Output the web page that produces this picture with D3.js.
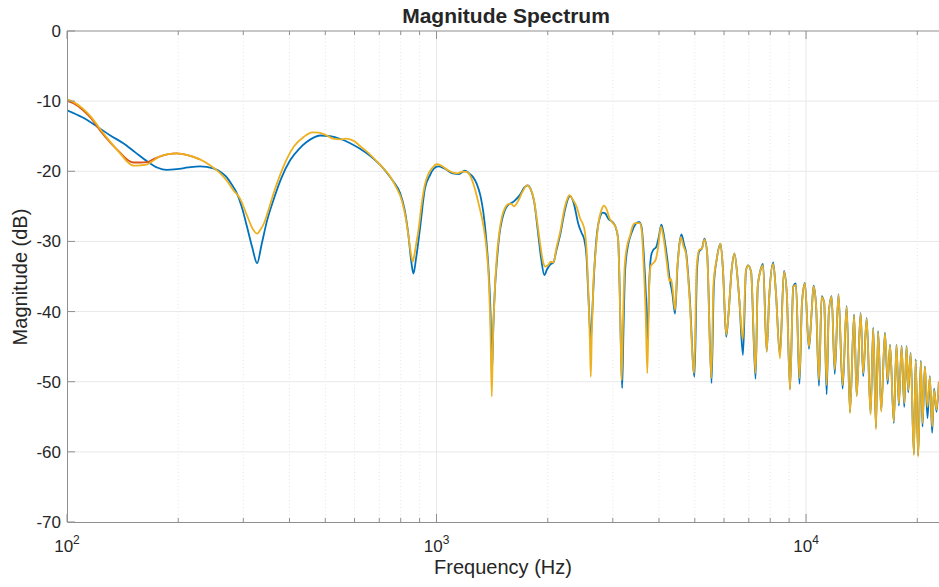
<!DOCTYPE html>
<html>
<head>
<meta charset="utf-8">
<script src="https://cdn.jsdelivr.net/npm/d3@7"></script>
<style>
  html, body { margin: 0; padding: 0; background: #fff; }
  svg { display: block; }
  text { font-family: "Liberation Sans", Arial, Helvetica, sans-serif; fill: #262626; }
</style>
</head>
<body>
<div id="chart"></div>
<script>
// ---------------- DATA ----------------
const chartTitle = "Magnitude Spectrum";
const xLabel = "Frequency (Hz)";
const yLabel = "Magnitude (dB)";
const yTicks = [0, -10, -20, -30, -40, -50, -60, -70];
const yTickLabels = ["0", "-10", "-20", "-30", "-40", "-50", "-60", "-70"];
const xMajorTicks = [100, 1000, 10000];
const xMajorExp = ["2", "3", "4"];
const xDomain = [100, 22900];
const yDomain = [-70, 0];

// Series 1 (blue): [frequency Hz, magnitude dB]
const blueSeries = [
  [100,-11.3],[110,-12.3],[120.5,-13.6],[131,-14.9],[142,-16.0],[153,-17.3],[165,-18.6],[176,-19.5],
  [186,-19.8],[198,-19.7],[213,-19.45],[229,-19.3],[249,-19.6],[262,-20.2],[271,-20.9],[280,-22.0],
  [288,-23.1],[298,-25.3],[307,-27.9],[317,-30.8],[327,-33.1],[336,-30.5],[348,-27.0],[362,-24.1],
  [380,-21.0],[402,-18.4],[425,-16.8],[446,-15.8],[465,-15.2],[484,-14.9],[515,-15.0],[550,-15.4],
  [584,-16.0],[621,-16.8],[661,-17.8],[704,-19.1],[731,-20.1],[765,-21.5],[797,-23.1],[820,-25.5],
  [838,-28.8],[855,-33.0],[866,-34.6],[880,-32.5],[901,-28.4],[930,-22.5],[959,-20.6],[985,-19.6],
  [1011,-19.3],[1050,-19.6],[1107,-20.3],[1150,-20.4],[1193,-19.9],[1225,-20.3],[1254,-20.8],[1285,-21.8],
  [1315,-23.5],[1340,-26.0],[1365,-30.0],[1385,-34.6],[1400,-40.0],[1413,-48.6],[1425,-42.0],[1440,-36.5],
  [1456,-33.0],[1480,-29.0],[1503,-27.0],[1550,-25.0],[1620,-24.3],[1680,-23.4],[1730,-22.3],[1765,-22.0],
  [1800,-22.6],[1840,-24.5],[1880,-28.5],[1920,-32.5],[1958,-34.8],[1990,-34.0],[2030,-33.3],[2073,-33.0],
  [2110,-31.3],[2162,-29.0],[2220,-25.8],[2270,-23.9],[2300,-23.5],[2350,-24.5],[2420,-27.5],[2470,-28.8],
  [2510,-29.7],[2545,-32.0],[2580,-38.5],[2615,-44.1],[2640,-40.0],[2670,-34.5],[2710,-29.5],[2760,-26.8],
  [2820,-25.9],[2860,-26.0],[2920,-26.8],[2990,-27.2],[3050,-27.9],[3100,-29.6],[3130,-36.5],[3155,-45.0],
  [3180,-50.9],[3205,-43.0],[3240,-34.0],[3300,-30.5],[3370,-28.8],[3450,-27.6],[3535,-27.2],[3590,-28.0],
  [3640,-32.0],[3690,-38.0],[3725,-44.0],[3760,-36.5],[3810,-32.0],[3860,-31.2],[3930,-30.8],[3990,-29.5],
  [4060,-27.6],[4120,-29.0],[4200,-32.0],[4280,-35.5],[4350,-37.5],[4420,-40.3],[4490,-33.5],[4540,-30.5],
  [4600,-29.0],[4680,-30.5],[4740,-31.7],[4840,-37.6],[4990,-49.3],[5070,-34.0],[5140,-31.4],[5230,-31.0],
  [5310,-29.6],[5400,-31.7],[5550,-50.2],[5630,-36.3],[5730,-32.6],[5870,-30.3],[5960,-34.1],[6080,-43.6],
  [6170,-40.3],[6290,-34.1],[6400,-31.7],[6520,-35.0],[6600,-38.4],[6750,-46.2],[6880,-34.1],[6970,-33.4],
  [7100,-34.3],[7300,-49.6],[7400,-36.5],[7500,-34.5],[7650,-33.2],[7826,-45.7],[7950,-37.9],[8150,-33.0],
  [8280,-36.9],[8500,-46.2],[8715,-34.2],[8870,-37.4],[9050,-51.0],[9235,-36.4],[9390,-36.0],[9600,-50.3],
  [9750,-38.8],[9930,-35.9],[10180,-45.3],[10350,-40.3],[10480,-36.3],[10650,-39.3],[10840,-50.6],[11020,-37.8],
  [11200,-38.8],[11370,-51.8],[11520,-40.3],[11730,-37.8],[11960,-48.9],[12240,-37.5],[12560,-51.0],[12880,-39.2],
  [13150,-54.3],[13490,-40.4],[13710,-52.0],[14050,-40.2],[14280,-49.2],[14590,-40.9],[14950,-54.5],[15200,-42.3],
  [15460,-56.5],[15670,-42.8],[15980,-54.1],[16350,-43.0],[16630,-50.3],[16880,-44.7],[17280,-55.9],[17570,-44.7],
  [17830,-53.4],[18140,-44.9],[18440,-53.6],[18710,-44.9],[18900,-51.5],[19190,-45.9],[19580,-60.3],[19800,-46.8],
  [20110,-60.5],[20450,-47.0],[20660,-56.4],[20970,-47.8],[21320,-55.2],[21630,-49.2],[21940,-57.3],[22210,-51.0],
  [22550,-54.3],[22880,-50.0]
];

// Series 2 (orange): only distinguishable at the low end, merges with series 3 afterwards
const orangeSeries = [
  [100,-9.95],[104,-10.3],[110,-11.2],[116,-12.4],[123,-14.2],[131,-15.9],[139,-17.3],[146,-18.4],
  [151,-18.75],[158,-18.75],[165,-18.7],[171,-18.3],[178,-17.9],[188,-17.55],[198,-17.45],[212,-17.7],
  [229,-18.3]
];

// Series 3 (yellow)
const yellowSeries = [
  [100,-9.75],[104,-10.1],[110,-11.0],[116,-12.2],[123,-14.0],[131,-15.8],[139,-17.4],[146,-18.7],
  [151,-19.2],[158,-19.15],[165,-19.0],[171,-18.5],[178,-17.9],[188,-17.55],[198,-17.45],[212,-17.7],
  [229,-18.3],[245,-19.2],[260,-20.3],[272,-21.5],[282,-22.7],[294,-23.9],[307,-26.3],[318,-28.2],
  [327,-28.9],[334,-28.3],[342,-27.3],[352,-25.3],[362,-23.2],[378,-20.4],[393,-18.3],[412,-16.4],
  [437,-15.1],[462,-14.45],[480,-14.5],[505,-14.9],[525,-15.35],[548,-15.45],[568,-15.35],[584,-15.45],
  [602,-15.8],[621,-16.4],[648,-17.2],[675,-18.1],[704,-19.1],[746,-20.6],[780,-22.4],[806,-24.2],
  [825,-26.6],[840,-29.3],[852,-31.6],[862,-32.9],[872,-31.8],[882,-30.2],[893,-28.5],[912,-24.6],
  [930,-21.9],[950,-20.4],[975,-19.5],[1000,-19.0],[1030,-19.2],[1070,-19.8],[1107,-20.2],[1140,-20.3],
  [1175,-20.05],[1206,-20.1],[1240,-20.9],[1270,-22.5],[1305,-25.0],[1340,-27.8],[1365,-31.0],[1385,-35.5],
  [1400,-43.0],[1411,-52.1],[1420,-45.0],[1435,-38.0],[1456,-32.2],[1480,-28.6],[1503,-26.5],[1530,-25.3],
  [1560,-24.7],[1590,-24.6],[1620,-25.0],[1660,-24.3],[1710,-22.9],[1757,-22.0],[1795,-22.5],[1831,-23.8],
  [1870,-27.0],[1906,-30.2],[1940,-32.8],[1970,-33.6],[2000,-33.4],[2040,-32.9],[2073,-33.0],[2110,-31.0],
  [2162,-28.6],[2220,-25.3],[2260,-23.9],[2290,-23.4],[2330,-23.9],[2396,-25.1],[2450,-26.8],[2484,-27.4],
  [2520,-28.6],[2545,-30.8],[2575,-37.0],[2600,-44.0],[2615,-49.3],[2632,-43.0],[2660,-35.5],[2690,-32.0],
  [2740,-27.6],[2800,-25.4],[2840,-24.9],[2880,-25.3],[2940,-26.7],[2990,-27.3],[3050,-27.9],[3095,-29.3],
  [3125,-35.0],[3150,-44.0],[3170,-49.8],[3195,-42.0],[3230,-33.6],[3290,-30.3],[3335,-29.3],[3390,-27.9],
  [3446,-27.4],[3500,-27.4],[3550,-27.4],[3590,-28.4],[3630,-32.6],[3680,-40.0],[3720,-48.8],[3760,-37.0],
  [3800,-33.5],[3860,-33.1],[3920,-32.6],[3980,-30.8],[4050,-27.9],[4110,-29.3],[4200,-33.0],[4270,-35.7],
  [4310,-35.3],[4370,-37.5],[4420,-39.8],[4480,-34.0],[4520,-31.7],[4580,-29.4],[4660,-30.7],[4730,-31.7],
  [4830,-37.4],[4980,-48.8],[5060,-33.6],[5140,-31.2],[5230,-31.0],[5310,-29.7],[5400,-31.7],[5540,-49.5],
  [5620,-36.0],[5730,-32.6],[5870,-30.3],[5960,-34.1],[6080,-43.3],[6170,-40.3],[6290,-34.1],[6400,-31.7],
  [6520,-35.0],[6600,-38.4],[6740,-44.0],[6880,-34.1],[6970,-33.4],[7100,-34.3],[7300,-48.8],[7400,-36.5],
  [7500,-34.5],[7650,-33.4],[7826,-45.7],[7950,-37.9],[8150,-33.2],[8280,-36.9],[8500,-46.7],[8715,-34.3],
  [8870,-37.4],[9050,-51.2],[9235,-36.5],[9390,-36.2],[9600,-49.5],[9750,-38.8],[9930,-36.0],[10180,-45.0],
  [10350,-40.3],[10480,-36.4],[10650,-39.3],[10840,-49.8],[11020,-37.9],[11200,-38.8],[11370,-50.5],[11520,-40.3],
  [11730,-37.9],[11960,-48.3],[12240,-37.6],[12560,-50.5],[12880,-39.3],[13150,-54.5],[13490,-40.5],[13710,-52.1],
  [14050,-40.3],[14280,-48.8],[14590,-41.0],[14950,-54.7],[15200,-42.4],[15460,-56.8],[15670,-42.9],[15980,-54.3],
  [16350,-43.1],[16630,-49.8],[16880,-44.8],[17280,-55.7],[17570,-44.8],[17830,-53.1],[18140,-45.0],[18440,-53.1],
  [18710,-45.0],[18900,-51.2],[19190,-46.0],[19580,-60.5],[19800,-46.9],[20110,-60.7],[20450,-47.1],[20660,-55.9],
  [20970,-47.9],[21320,-53.6],[21630,-49.3],[21940,-56.4],[22210,-51.2],[22550,-54.0],[22880,-50.0]
];

const seriesList = [
  { name: "blue", data: blueSeries, color: "#0072BD" },
  { name: "orange", data: orangeSeries, color: "#D95319" },
  { name: "yellow", data: yellowSeries, color: "#EDB120" }
];

// ---------------- LAYOUT ----------------
const W = 939, H = 587;
const plot = { left: 67, right: 939, top: 31, bottom: 522 };

const svg = d3.select("#chart").append("svg")
  .attr("width", W).attr("height", H);

const x = d3.scaleLog().domain(xDomain).range([plot.left, plot.right]);
const y = d3.scaleLinear().domain(yDomain).range([plot.bottom, plot.top]);

// minor ticks 2..9 per decade
const minorTicks = x.ticks().filter(v => xMajorTicks.indexOf(v) < 0 && v > xDomain[0] && v < xDomain[1]);

// ---------------- GRID ----------------
const grid = svg.append("g").attr("class", "grid");
grid.selectAll("line.minor").data(minorTicks).enter().append("line")
  .attr("class", "minor")
  .attr("x1", d => x(d)).attr("x2", d => x(d))
  .attr("y1", plot.top).attr("y2", plot.bottom)
  .attr("stroke", "#dedede").attr("stroke-width", 0.8)
  .attr("stroke-dasharray", "1,2.5");
grid.selectAll("line.xmaj").data(xMajorTicks.slice(1)).enter().append("line")
  .attr("class", "xmaj")
  .attr("x1", d => x(d)).attr("x2", d => x(d))
  .attr("y1", plot.top).attr("y2", plot.bottom)
  .attr("stroke", "#e8e8e8").attr("stroke-width", 1);
grid.selectAll("line.ymaj").data(yTicks.slice(1, -1)).enter().append("line")
  .attr("class", "ymaj")
  .attr("x1", plot.left).attr("x2", plot.right)
  .attr("y1", d => y(d)).attr("y2", d => y(d))
  .attr("stroke", "#e8e8e8").attr("stroke-width", 1);

// ---------------- LINES ----------------
svg.append("clipPath").attr("id", "clip").append("rect")
  .attr("x", plot.left).attr("y", plot.top)
  .attr("width", plot.right - plot.left).attr("height", plot.bottom - plot.top);

const line = d3.line()
  .x(d => x(d[0])).y(d => y(d[1]))
  .curve(d3.curveMonotoneX);

const lines = svg.append("g").attr("clip-path", "url(#clip)");
lines.selectAll("path").data(seriesList).enter().append("path")
  .attr("d", d => line(d.data))
  .attr("fill", "none")
  .attr("stroke", d => d.color)
  .attr("stroke-width", 1.8)
  .attr("stroke-linejoin", "round");

// ---------------- AXES ----------------
const axisColor = "#8f8f8f";
const xAxisBottom = d3.axisBottom(x).tickValues(xMajorTicks).tickSize(0).tickFormat("");
const gxb = svg.append("g").attr("transform", `translate(0,${plot.bottom})`).call(xAxisBottom);
gxb.select(".domain").attr("stroke", axisColor);

const tickG = svg.append("g").attr("stroke", axisColor).attr("stroke-width", 1);
tickG.selectAll("line.bmaj").data(xMajorTicks).enter().append("line")
  .attr("x1", d => x(d)).attr("x2", d => x(d)).attr("y1", plot.bottom).attr("y2", plot.bottom - 8);
tickG.selectAll("line.bmin").data(minorTicks).enter().append("line")
  .attr("x1", d => x(d)).attr("x2", d => x(d)).attr("y1", plot.bottom).attr("y2", plot.bottom - 4);
tickG.selectAll("line.tmaj").data(xMajorTicks).enter().append("line")
  .attr("x1", d => x(d)).attr("x2", d => x(d)).attr("y1", plot.top).attr("y2", plot.top + 8);
tickG.selectAll("line.tmin").data(minorTicks).enter().append("line")
  .attr("x1", d => x(d)).attr("x2", d => x(d)).attr("y1", plot.top).attr("y2", plot.top + 4);
tickG.selectAll("line.ytk").data(yTicks).enter().append("line")
  .attr("x1", plot.left).attr("x2", plot.left + 8).attr("y1", d => y(d)).attr("y2", d => y(d));

svg.append("line").attr("x1", plot.left).attr("x2", plot.right)
  .attr("y1", plot.top).attr("y2", plot.top).attr("stroke", axisColor);

const yAxis = d3.axisLeft(y).tickValues(yTicks).tickSize(0).tickPadding(6)
  .tickFormat((d, i) => yTickLabels[i]);
const gy = svg.append("g").attr("transform", `translate(${plot.left},0)`).call(yAxis);
gy.select(".domain").attr("stroke", axisColor);
gy.selectAll("text")
  .attr("font-size", 17)
  .attr("font-family", "'Liberation Sans', Arial, sans-serif")
  .attr("fill", "#262626");

const xl = svg.append("g");
xMajorTicks.forEach((v, i) => {
  const t = xl.append("text")
    .attr("x", x(v)).attr("y", 552)
    .attr("text-anchor", "middle")
    .attr("font-size", 17);
  t.append("tspan").text("10");
  t.append("tspan").attr("font-size", 12).attr("dy", -8).text(xMajorExp[i]);
});

// ---------------- LABELS ----------------
svg.append("text")
  .attr("x", 506).attr("y", 23)
  .attr("text-anchor", "middle")
  .attr("font-size", 21).attr("font-weight", "bold")
  .attr("fill", "#000")
  .text(chartTitle);

svg.append("text")
  .attr("x", 503).attr("y", 574)
  .attr("text-anchor", "middle")
  .attr("font-size", 20)
  .text(xLabel);

svg.append("text")
  .attr("transform", "translate(27,277) rotate(-90)")
  .attr("text-anchor", "middle")
  .attr("font-size", 20)
  .text(yLabel);
</script>
</body>
</html>
